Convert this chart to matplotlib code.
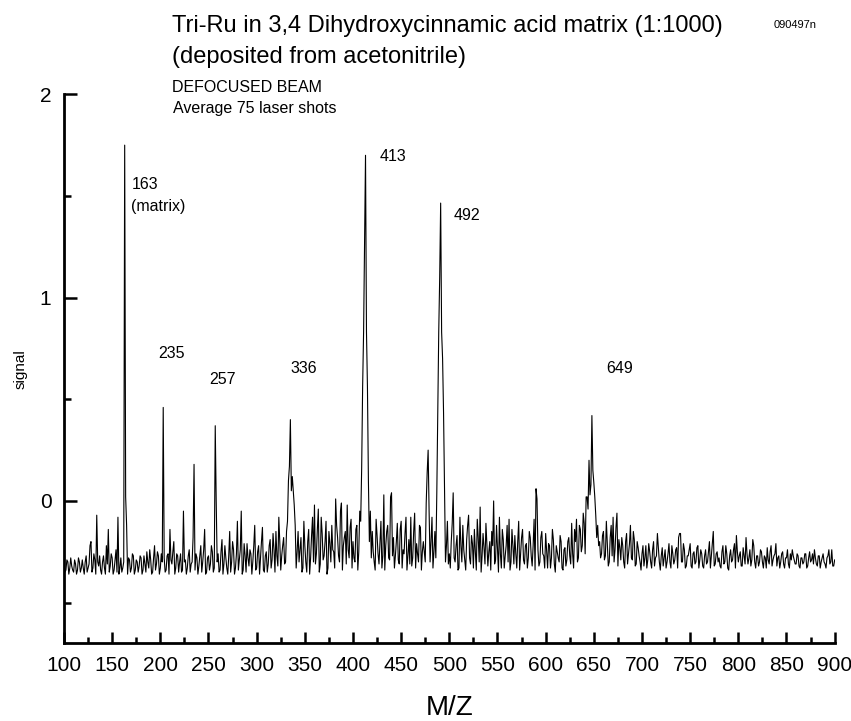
import matplotlib
matplotlib.use("Agg")
from matplotlib import pyplot as plt
from matplotlib.ticker import MultipleLocator

plt.rcParams['font.family'] = ['Liberation Sans', 'DejaVu Sans']

# Baseline trace at even m/z, 100 to 900
noise_even = [
    -0.31, -0.34, -0.30, -0.33, -0.32, -0.35, -0.31, -0.34, -0.30, -0.33,
    -0.33, -0.30, -0.35, -0.31, -0.20, -0.33, -0.29, -0.07, -0.32, -0.34,
    -0.30, -0.33, -0.22, -0.14, -0.32, -0.28, -0.34, -0.24, -0.08, -0.33,
    -0.35, -0.30, -0.31, -0.36, -0.29, -0.33, -0.27, -0.34, -0.30, -0.32,
    -0.28, -0.34, -0.31, -0.25, -0.33, -0.29, -0.35, -0.22, -0.31, -0.27,
    -0.33, -0.30, -0.28, -0.34, -0.26, -0.14, -0.31, -0.20, -0.33, -0.27,
    -0.30, -0.35, -0.05, -0.29, -0.33, -0.24, -0.31, -0.18, -0.34, -0.28,
    -0.32, -0.22, -0.30, -0.14, -0.35, -0.27, -0.31, -0.25, -0.33, -0.29,
    -0.26, -0.34, -0.19, -0.31, -0.28, -0.36, -0.15, -0.30, -0.24, -0.33,
    -0.10, -0.29, -0.05, -0.34, -0.27, -0.21, -0.32, -0.26, -0.30, -0.12,
    -0.33, -0.22, -0.28, -0.13, -0.35, -0.25, -0.31, -0.19, -0.29, -0.24,
    -0.15, -0.32, -0.20, -0.27, -0.18, -0.30, -0.10, 0.00, -0.05, 0.05,
    -0.12, -0.25, -0.30, -0.18, -0.33, -0.22, -0.35, -0.14, -0.28, -0.08,
    -0.02, -0.26, -0.04, -0.31, -0.16, -0.27, -0.10, -0.33, -0.21, -0.12,
    -0.25, 0.01, -0.18, -0.30, -0.01, -0.22, -0.15, -0.02, -0.28, -0.09,
    -0.20, -0.30, -0.12, -0.25, -0.10, 0.56, 1.25, 0.83, 0.10, -0.05,
    -0.15, -0.30, -0.09, -0.26, -0.20, -0.33, 0.03, -0.22, -0.12, -0.29,
    0.04, -0.18, -0.27, -0.11, -0.31, -0.10, -0.24, -0.16, -0.34, -0.19,
    -0.08, -0.28, -0.06, -0.21, -0.30, -0.13, -0.25, -0.25, -0.01, 0.25,
    -0.30, -0.08, -0.25, -0.28, 0.45, 1.10, 0.83, 0.435, -0.30, -0.10,
    -0.26, -0.20, 0.04, -0.30, -0.17, -0.33, -0.22, -0.12, -0.29, -0.19,
    -0.07, -0.31, -0.21, -0.14, -0.34, -0.18, -0.03, -0.27, -0.23, -0.11,
    -0.32, -0.20, -0.15, 0.00, -0.29, -0.24, -0.08, -0.33, -0.19, -0.27,
    -0.12, -0.09, -0.30, -0.22, -0.17, -0.33, -0.10, -0.26, -0.14, -0.31,
    -0.21, -0.28, -0.18, -0.32, -0.09, 0.06, -0.24, -0.30, -0.15, -0.27,
    -0.16, -0.33, -0.22, -0.28, -0.19, -0.35, -0.25, -0.30, -0.20, -0.34,
    -0.23, -0.29, -0.18, -0.31, -0.26, -0.14, -0.09, -0.28, -0.14, -0.22,
    -0.11, 0.02, -0.04, 0.03, 0.42, 0.09, -0.07, -0.12, -0.20, -0.26,
    -0.15, -0.27, -0.21, -0.30, -0.12, -0.08, -0.24, -0.06, -0.19, -0.29,
    -0.22, -0.33, -0.16, -0.26, -0.12, -0.29, -0.19, -0.31, -0.23, -0.30,
    -0.26, -0.32, -0.22, -0.29, -0.25, -0.33, -0.20, -0.28, -0.16, -0.30,
    -0.27, -0.32, -0.24, -0.30, -0.21, -0.33, -0.26, -0.29, -0.23, -0.18,
    -0.16, -0.30, -0.24, -0.32, -0.27, -0.21, -0.33, -0.25, -0.30, -0.22,
    -0.29, -0.26, -0.33, -0.24, -0.30, -0.20, -0.27, -0.15, -0.31, -0.25,
    -0.28, -0.33, -0.22, -0.30, -0.26, -0.34, -0.24, -0.29, -0.21, -0.17,
    -0.30, -0.25, -0.32, -0.27, -0.18, -0.31, -0.24, -0.29, -0.22, -0.33,
    -0.27, -0.30, -0.25, -0.33, -0.28, -0.23, -0.31, -0.22, -0.29, -0.26,
    -0.32, -0.27, -0.30, -0.25, -0.33, -0.28, -0.31, -0.26, -0.24, -0.29,
    -0.31, -0.27, -0.33, -0.28, -0.30, -0.26, -0.32, -0.25, -0.29, -0.31,
    -0.28, -0.32, -0.27, -0.30, -0.26, -0.31, -0.28, -0.24, -0.30, -0.32,
    -0.29,
]

# Baseline trace at odd m/z, 101 to 899
noise_odd = [
    -0.35, -0.29, -0.36, -0.28, -0.34, -0.29, -0.36, -0.28, -0.35, -0.29,
    -0.36, -0.27, -0.33, -0.22, -0.35, -0.26, -0.36, -0.30, -0.27, -0.36,
    -0.27, -0.36, -0.31, -0.35, -0.26, -0.36, -0.29, -0.35, -0.36, -0.28,
    -0.33, -0.30, -0.37, -0.28, -0.35, -0.26, -0.36, -0.29, -0.35, -0.27,
    -0.36, -0.27, -0.35, -0.30, -0.24, -0.36, -0.28, -0.34, -0.25, -0.36,
    -0.26, -0.30, -0.35, -0.27, -0.36, -0.29, -0.25, -0.36, -0.26, -0.35,
    -0.26, -0.34, -0.30, -0.36, -0.27, -0.35, -0.30, -0.33, -0.26, -0.36,
    -0.27, -0.35, -0.24, -0.36, -0.28, -0.34, -0.22, -0.35, -0.30, -0.30,
    -0.35, -0.25, -0.36, -0.22, -0.33, -0.27, -0.35, -0.20, -0.36, -0.26,
    -0.34, -0.24, -0.36, -0.21, -0.35, -0.28, -0.24, -0.36, -0.22, -0.34,
    -0.25, -0.36, -0.20, -0.34, -0.27, -0.35, -0.22, -0.33, -0.16, -0.35,
    -0.27, -0.08, -0.34, -0.22, -0.31, -0.15, 0.10, 0.40, 0.12, -0.02,
    -0.33, -0.15, -0.24, -0.35, -0.10, -0.30, -0.20, -0.36, -0.17, -0.30,
    -0.31, -0.14, -0.35, -0.08, -0.29, -0.20, -0.36, -0.15, -0.30, -0.24,
    -0.33, -0.12, -0.27, -0.05, -0.34, -0.18, -0.31, -0.24, -0.13, -0.33,
    -0.28, -0.14, -0.34, -0.05, 0.16, 0.83, 1.70, 0.56, -0.20, -0.28,
    -0.25, -0.34, -0.17, -0.31, -0.10, -0.27, -0.34, -0.15, -0.28, 0.02,
    -0.27, -0.33, -0.20, -0.29, -0.14, -0.33, -0.26, -0.08, -0.27, -0.31,
    -0.32, -0.15, -0.33, -0.26, -0.12, -0.34, -0.20, -0.30, 0.14, -0.05,
    -0.20, -0.33, -0.15, 0.04, 0.83, 1.465, 0.70, 0.05, -0.22, -0.31,
    -0.33, -0.11, -0.28, -0.22, -0.34, -0.08, -0.30, -0.24, -0.34, -0.12,
    -0.28, -0.17, -0.33, -0.25, -0.09, -0.30, -0.35, -0.16, -0.31, -0.22,
    -0.25, -0.34, -0.22, -0.31, -0.12, -0.35, -0.26, -0.14, -0.33, -0.22,
    -0.30, -0.34, -0.14, -0.31, -0.26, -0.20, -0.34, -0.18, -0.29, -0.22,
    -0.33, -0.15, -0.27, -0.22, -0.34, 0.01, -0.32, -0.18, -0.26, -0.33,
    -0.25, -0.21, -0.33, -0.14, -0.31, -0.22, -0.28, -0.17, -0.33, -0.24,
    -0.32, -0.20, -0.27, -0.11, -0.33, -0.20, -0.30, -0.12, -0.25, -0.06,
    -0.26, 0.02, 0.20, 0.08, 0.15, 0.02, -0.18, -0.22, -0.28, -0.17,
    -0.29, -0.10, -0.32, -0.18, -0.27, -0.30, -0.13, -0.32, -0.23, -0.18,
    -0.30, -0.20, -0.31, -0.21, -0.28, -0.15, -0.32, -0.20, -0.27, -0.34,
    -0.22, -0.28, -0.33, -0.21, -0.30, -0.24, -0.32, -0.27, -0.23, -0.34,
    -0.23, -0.28, -0.33, -0.26, -0.30, -0.22, -0.31, -0.24, -0.33, -0.16,
    -0.30, -0.21, -0.33, -0.27, -0.24, -0.32, -0.26, -0.31, -0.23, -0.33,
    -0.24, -0.32, -0.27, -0.31, -0.25, -0.33, -0.21, -0.32, -0.26, -0.30,
    -0.32, -0.25, -0.31, -0.22, -0.33, -0.27, -0.30, -0.24, -0.33, -0.25,
    -0.27, -0.32, -0.23, -0.31, -0.26, -0.28, -0.32, -0.19, -0.30, -0.27,
    -0.32, -0.24, -0.30, -0.27, -0.33, -0.29, -0.25, -0.32, -0.27, -0.21,
    -0.28, -0.33, -0.26, -0.31, -0.28, -0.24, -0.33, -0.29, -0.27, -0.31,
    -0.26, -0.32, -0.28, -0.31, -0.26, -0.33, -0.28, -0.30, -0.26, -0.24,
    -0.31, -0.27, -0.33, -0.28, -0.30, -0.33, -0.27, -0.31, -0.24, -0.32,
]

# Peaks and their shoulders, read at single m/z steps
peak_mz = [163, 164, 165, 203, 235, 257, 258,
           333, 334, 335, 336, 337, 339,
           409, 410, 411, 412, 413, 414, 415, 416, 417,
           477, 478, 479,
           487, 489, 490, 491, 492, 493, 494, 495,
           643, 645, 647, 648, 649, 650, 651]
peak_signal = [1.75, 0.02, -0.12, 0.46, 0.18, 0.37, 0.00,
               0.10, 0.17, 0.40, 0.05, 0.12, -0.02,
               0.16, 0.56, 0.83, 1.25, 1.70, 0.83, 0.56, 0.10, -0.20,
               0.14, 0.25, -0.05,
               0.04, 0.83, 1.10, 1.465, 0.83, 0.70, 0.435, 0.05,
               0.02, 0.20, 0.08, 0.42, 0.15, 0.09, 0.02]

# Peak labels (text, m/z of left edge, signal of baseline)
label_text = ['163', '(matrix)', '235', '257', '336', '413', '492', '649']
label_x = [170.1, 169.4, 198.1, 250.6, 334.9, 427.5, 504.1, 662.4]
label_y = [1.536, 1.428, 0.704, 0.577, 0.627, 1.670, 1.380, 0.630]

trace = {100 + 2 * i: v for i, v in enumerate(noise_even)}
trace.update({101 + 2 * i: v for i, v in enumerate(noise_odd)})
trace.update(zip(peak_mz, peak_signal))
mz = sorted(trace)
signal = [trace[m] for m in mz]

fig = plt.figure(figsize=(8.51, 7.21), dpi=100)
ax = fig.add_axes([0.0752, 0.1078, 0.9056, 0.7614])

ax.plot(mz, signal, color='black', linewidth=0.8)

ax.set_xlim(100, 900)
ax.set_ylim(-0.70, 2.0)
ax.xaxis.set_major_locator(MultipleLocator(50))
ax.xaxis.set_minor_locator(MultipleLocator(25))
ax.yaxis.set_major_locator(MultipleLocator(1))
ax.yaxis.set_minor_locator(MultipleLocator(0.5))

for side in ['top', 'right']:
    ax.spines[side].set_visible(False)
for side in ['left', 'bottom']:
    ax.spines[side].set_linewidth(2)

ax.tick_params(axis='both', which='both', direction='in', width=1.8, labelsize=15)
ax.tick_params(axis='x', which='major', length=8, pad=9)
ax.tick_params(axis='x', which='minor', length=4)
ax.tick_params(axis='y', which='major', length=9, pad=9)
ax.tick_params(axis='y', which='minor', length=5)

ax.set_xlabel('M/Z', fontsize=20, va='baseline')
ax.xaxis.set_label_coords(0.5, -0.131)
ax.set_ylabel('signal', fontsize=11, va='center')
ax.yaxis.set_label_coords(-0.057, 0.5)

for t, x, y in zip(label_text, label_x, label_y):
    ax.text(x, y, t, fontsize=11.5, ha='left', va='baseline')

fig.text(172 / 851, 1 - 32 / 721, 'Tri-Ru in 3,4 Dihydroxycinnamic acid matrix (1:1000)',
         fontsize=17, ha='left', va='baseline')
fig.text(172 / 851, 1 - 63 / 721, '(deposited from acetonitrile)',
         fontsize=17, ha='left', va='baseline')
fig.text(774 / 851, 1 - 28 / 721, '090497n', fontsize=8, ha='left', va='baseline')
fig.text(172 / 851, 1 - 92 / 721, 'DEFOCUSED BEAM', fontsize=11.5, ha='left', va='baseline')
fig.text(173 / 851, 1 - 113 / 721, 'Average 75 laser shots', fontsize=11.5,
         ha='left', va='baseline')

fig.savefig('out.png', dpi=100)
